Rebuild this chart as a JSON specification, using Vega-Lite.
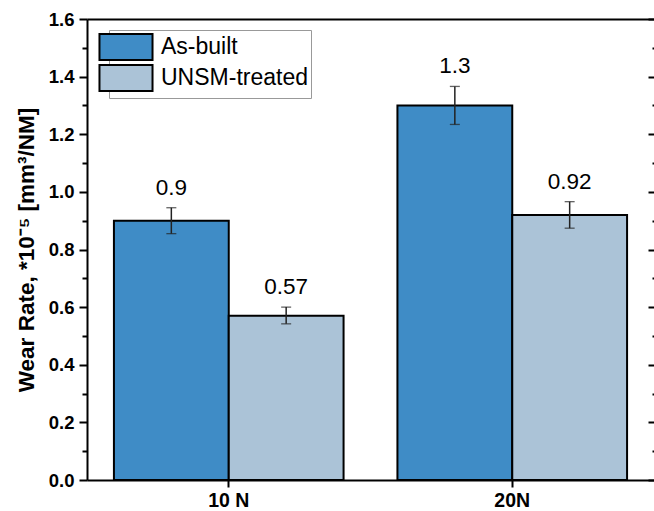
{
  "$schema": "https://vega.github.io/schema/vega-lite/v6.json",
  "autosize": {"type": "none"},
  "padding": {"left": 87, "top": 19, "right": 0, "bottom": 31},
  "width": 567,
  "height": 461,
  "config": {
    "view": {"stroke": null},
    "font": "Liberation Sans",
    "axis": {"grid": false, "domainColor": "#000", "tickColor": "#000", "labelColor": "#000", "titleColor": "#000"}
  },
  "data": {
    "values": [
      {"load": "10 N", "treatment": "As-built", "value": 0.9, "lo": 0.855, "hi": 0.945},
      {"load": "10 N", "treatment": "UNSM-treated", "value": 0.57, "lo": 0.542, "hi": 0.6},
      {"load": "20N", "treatment": "As-built", "value": 1.3, "lo": 1.234, "hi": 1.366},
      {"load": "20N", "treatment": "UNSM-treated", "value": 0.92, "lo": 0.874, "hi": 0.966}
    ]
  },
  "resolve": {"axis": {"x": "independent", "y": "independent"}},
  "layer": [
    {
      "mark": {"type": "bar", "stroke": "#000", "strokeWidth": 2, "opacity": 1},
      "encoding": {
        "x": {
          "field": "load", "type": "nominal", "sort": null,
          "scale": {"paddingInner": 0.19, "paddingOuter": 0.095},
          "axis": {
            "orient": "bottom", "title": null, "labelAngle": 0,
            "labelFontSize": 19.5, "labelFontWeight": "bold", "labelPadding": 4,
            "tickSize": 7, "tickWidth": 2, "domainWidth": 2
          }
        },
        "xOffset": {"field": "treatment", "type": "nominal", "scale": {"paddingInner": 0, "paddingOuter": 0}},
        "y": {
          "field": "value", "type": "quantitative",
          "scale": {"domain": [0, 1.6], "nice": false},
          "axis": {
            "orient": "left",
            "title": "Wear Rate, *10⁻⁵ [mm³/NM]",
            "titleFontSize": 22.5, "titleFontWeight": "bold", "titlePadding": 10,
            "values": [0, 0.1, 0.2, 0.3, 0.4, 0.5, 0.6, 0.7, 0.8, 0.9, 1.0, 1.1, 1.2, 1.3, 1.4, 1.5, 1.6],
            "labelExpr": "round(datum.value*10) % 2 == 1 ? '' : format(datum.value, '.1f')",
            "labelFontSize": 18.5, "labelFontWeight": "bold", "labelPadding": 5,
            "tickSize": {"condition": {"test": "round(datum.value*10) % 2 == 1", "value": 5}, "value": 8},
            "tickWidth": 2, "domainWidth": 2
          }
        },
        "color": {
          "field": "treatment", "type": "nominal",
          "scale": {"domain": ["As-built", "UNSM-treated"], "range": ["#3f8cc6", "#abc3d7"]},
          "legend": {
            "title": null, "orient": "none", "legendX": 22, "legendY": 11,
            "symbolType": "M-2.04,-1H2.04V1H-2.04Z", "symbolSize": 676,
            "symbolStrokeColor": "#000", "symbolStrokeWidth": 2, "symbolOpacity": 1,
            "labelFontSize": 23, "labelColor": "#000", "labelOffset": 21, "labelFont": "Liberation Sans",
            "rowPadding": -3, "padding": 3, "strokeColor": "#999", "fillColor": "#fff", "symbolLimit": 0
          }
        }
      }
    },
    {
      "mark": {"type": "rule", "color": "#222", "strokeWidth": 1.5},
      "encoding": {
        "x": {
          "field": "load", "type": "nominal", "sort": null,
          "axis": {"orient": "top", "title": null, "labels": false, "ticks": false, "domainWidth": 2}
        },
        "xOffset": {"field": "treatment", "type": "nominal"},
        "y": {
          "field": "lo", "type": "quantitative",
          "axis": {
            "orient": "right", "title": null, "labels": false, "domain": false,
            "values": [0, 0.1, 0.2, 0.3, 0.4, 0.5, 0.6, 0.7, 0.8, 0.9, 1.0, 1.1, 1.2, 1.3, 1.4, 1.5, 1.6],
            "tickSize": {"condition": {"test": "round(datum.value*10) % 2 == 1", "value": -2}, "value": -6},
            "tickWidth": 2
          }
        },
        "y2": {"field": "hi"}
      }
    },
    {
      "mark": {"type": "tick", "color": "#222", "size": 10, "thickness": 1.3},
      "encoding": {
        "x": {"field": "load", "type": "nominal", "sort": null, "axis": null},
        "xOffset": {"field": "treatment", "type": "nominal"},
        "y": {"field": "lo", "type": "quantitative", "axis": null}
      }
    },
    {
      "mark": {"type": "tick", "color": "#222", "size": 10, "thickness": 1.3},
      "encoding": {
        "x": {"field": "load", "type": "nominal", "sort": null, "axis": null},
        "xOffset": {"field": "treatment", "type": "nominal"},
        "y": {"field": "hi", "type": "quantitative", "axis": null}
      }
    },
    {
      "mark": {"type": "text", "fontSize": 22.5, "color": "#000", "baseline": "middle", "dy": -20, "font": "Liberation Sans"},
      "encoding": {
        "x": {"field": "load", "type": "nominal", "sort": null, "axis": null},
        "xOffset": {"field": "treatment", "type": "nominal"},
        "y": {"field": "hi", "type": "quantitative", "axis": null},
        "text": {"field": "value", "type": "quantitative"}
      }
    }
  ]
}
